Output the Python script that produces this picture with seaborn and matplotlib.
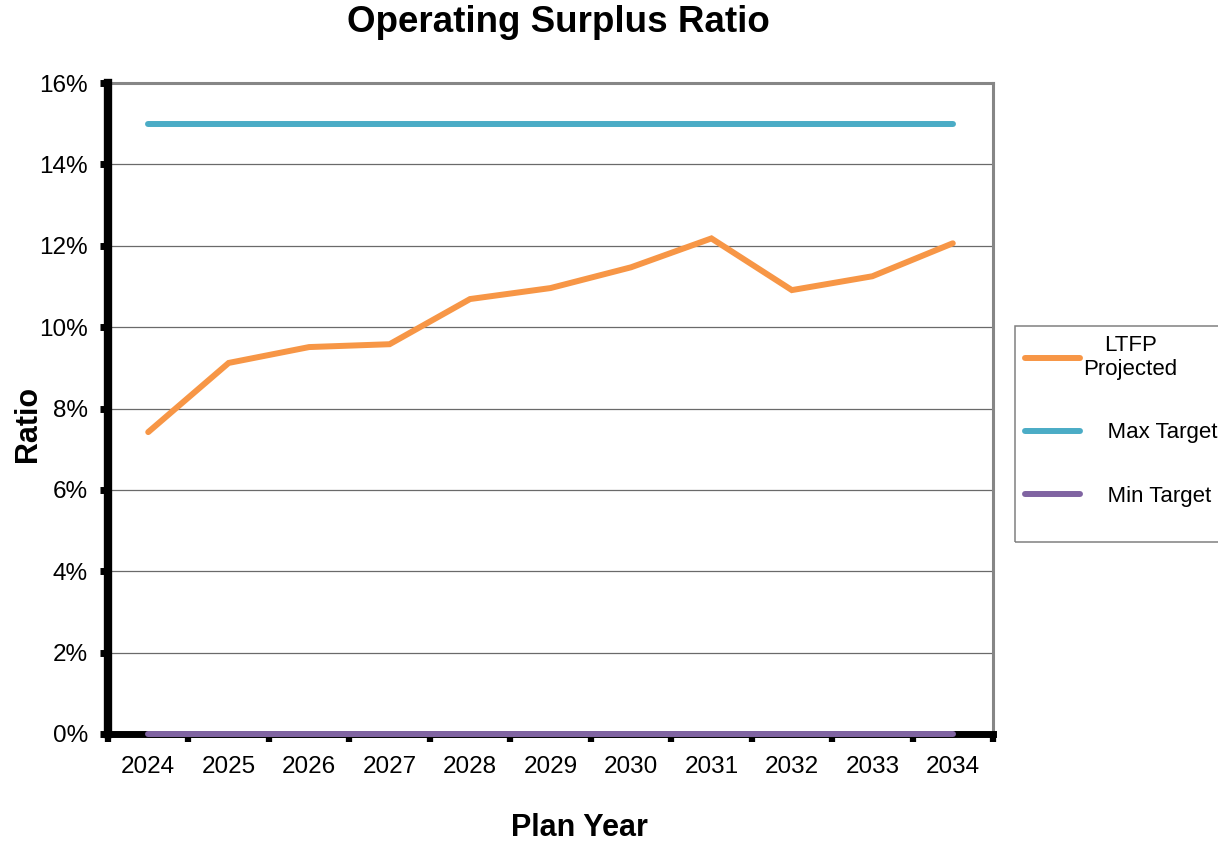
import matplotlib
matplotlib.use("Agg")
import matplotlib.pyplot as plt
import seaborn as sns
import pandas as pd
from matplotlib.patches import Rectangle
from matplotlib.ticker import FixedLocator, PercentFormatter

# Plan years and projected operating surplus ratio (%)
years = ["2024", "2025", "2026", "2027", "2028", "2029",
         "2030", "2031", "2032", "2033", "2034"]
ltfp_projected = [7.42, 9.12, 9.51, 9.58, 10.69, 10.96,
                  11.47, 12.18, 10.91, 11.25, 12.06]
max_target = [15.0] * len(years)
min_target = [0.0] * len(years)

series_names = ["LTFP\nProjected", "    Max Target", "    Min Target"]
series_colors = ["#F79646", "#4BACC6", "#8064A2"]

df = pd.concat([
    pd.DataFrame({"Plan Year": years, "Ratio": vals, "Series": name})
    for name, vals in zip(series_names, [ltfp_projected, max_target, min_target])
], ignore_index=True)

sns.set_theme(style="white")
plt.rcParams["font.family"] = ["Liberation Sans", "DejaVu Sans"]
plt.rcParams["text.color"] = "black"

W, H = 1218, 844
fig = plt.figure(figsize=(W / 100, H / 100), dpi=100)
ax = fig.add_axes([108 / W, 110 / H, 885 / W, 651 / H])

sns.lineplot(data=df, x="Plan Year", y="Ratio", hue="Series",
             palette=dict(zip(series_names, series_colors)),
             linewidth=4.3, legend=False, ax=ax, sort=False, zorder=5)
for ln in ax.lines:
    ln.set_solid_capstyle("round")
    ln.set_solid_joinstyle("miter")
    ln.set_clip_on(False)

ax.set_xlim(-0.5, len(years) - 0.5)
ax.set_ylim(0, 16)
ax.yaxis.set_major_locator(FixedLocator(range(0, 17, 2)))
ax.yaxis.set_major_formatter(PercentFormatter(decimals=0))
ax.xaxis.set_minor_locator(FixedLocator([i - 0.5 for i in range(len(years) + 1)]))

ax.grid(axis="y", color="#6a6a6a", linewidth=0.9)
ax.set_axisbelow(True)

for side in ("top", "right"):
    ax.spines[side].set_color("#868686")
    ax.spines[side].set_linewidth(2.2)
ax.spines["left"].set_color("black")
ax.spines["left"].set_linewidth(6.0)
ax.spines["bottom"].set_color("black")
ax.spines["bottom"].set_linewidth(5.0)
ax.spines["left"].set_zorder(3)
ax.spines["bottom"].set_zorder(3)

ax.tick_params(axis="x", which="major", length=0, pad=16, labelsize=17.5,
               labelcolor="black")
ax.tick_params(axis="x", which="minor", bottom=True, direction="out",
               length=5.5, width=4.5, color="black")
ax.tick_params(axis="y", which="major", left=True, direction="out",
               length=5.5, width=5.0, color="black", pad=9, labelsize=17.5,
               labelcolor="black")
ax.set_xlabel("")
ax.set_ylabel("")

fig.text(558 / W, 1 - 22 / H, "Operating Surplus Ratio", ha="center",
         va="center", fontsize=26.5, fontweight="bold", color="black")
fig.text(579 / W, 1 - 828 / H, "Plan Year", ha="center", va="center",
         fontsize=22, fontweight="bold", color="black")
fig.text(28 / W, 1 - 424 / H, "Ratio", ha="center", va="center",
         rotation=90, fontsize=22, fontweight="bold", color="black")

# Legend box outline, running past the right edge of the figure
fig.patches.append(Rectangle((1015 / W, 1 - 542 / H), 300 / W, 216 / H,
                             transform=fig.transFigure, facecolor="none",
                             edgecolor="#808080", linewidth=1.1,
                             clip_on=False, zorder=-1))

leg = ax.legend(handles=ax.lines[:3], labels=series_names,
                loc="upper left", bbox_to_anchor=(1025 / W, 1 - 335 / H),
                bbox_transform=fig.transFigure, fontsize=16, frameon=False,
                handlelength=2.48, handletextpad=0.13, labelspacing=1.9,
                borderpad=0, borderaxespad=0, labelcolor="black")
for t in leg.get_texts():
    t.set_multialignment("center")

fig.savefig("out.png", dpi=100)
